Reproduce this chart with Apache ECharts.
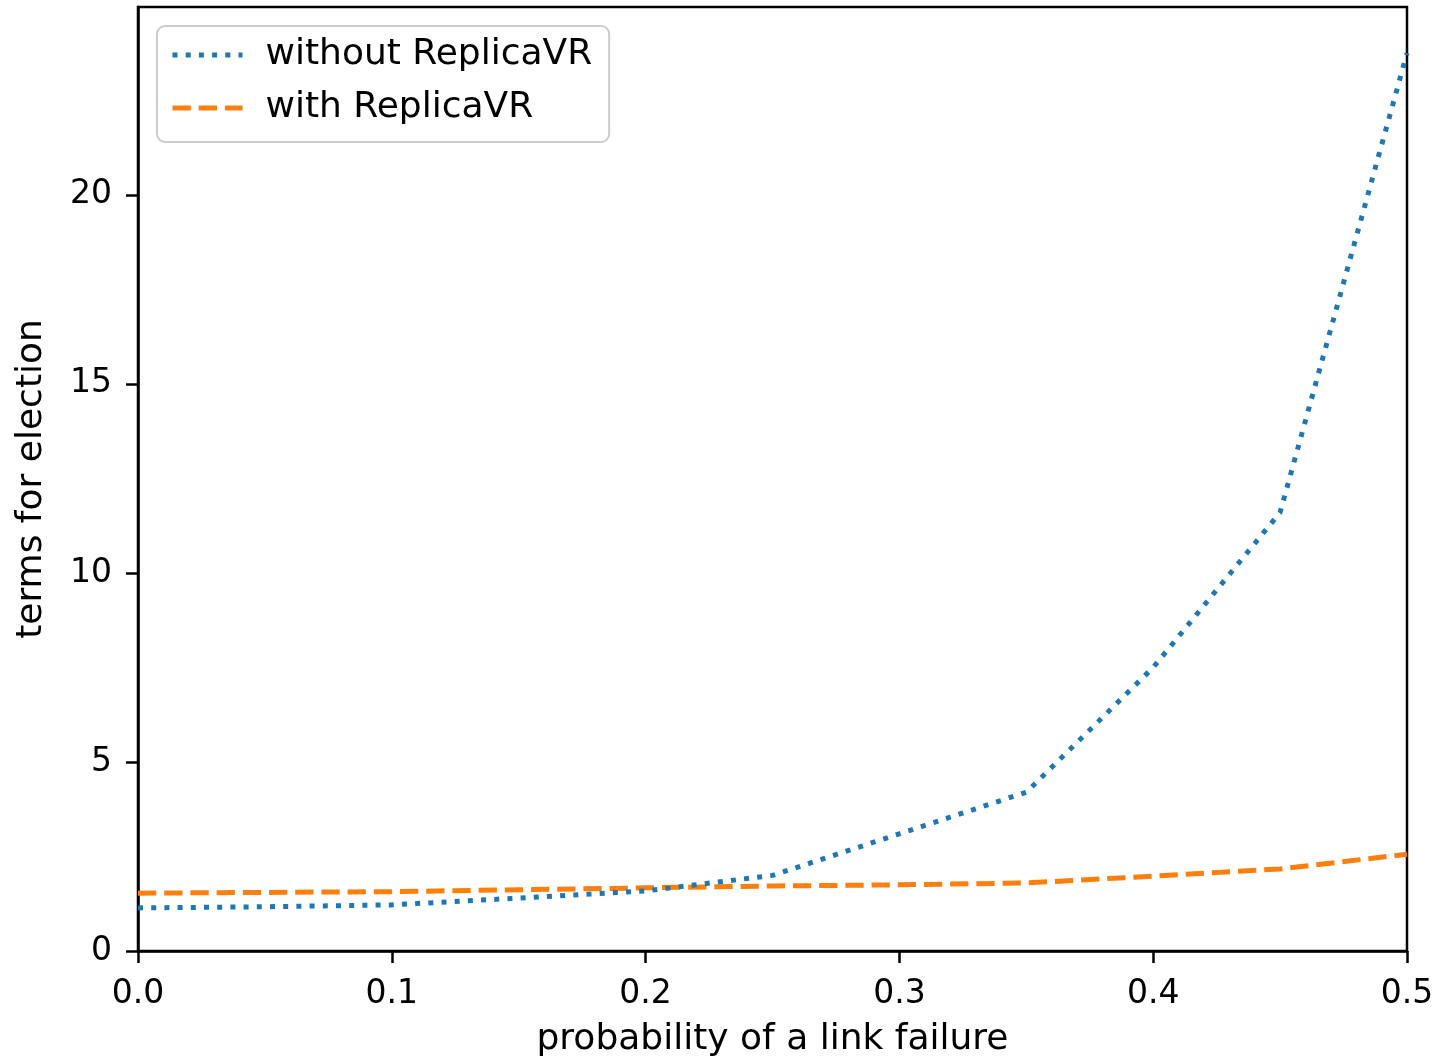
<!DOCTYPE html>
<html>
<head>
<meta charset="utf-8">
<script src="https://cdn.jsdelivr.net/npm/echarts@6/dist/echarts.min.js"></script>
<style>
  html, body { margin: 0; padding: 0; background: #fff; }
  #main { width: 1441px; height: 1064px; }
</style>
</head>
<body>
<div id="main"></div>
<script>
var failureProb = [0, 0.05, 0.1, 0.15, 0.2, 0.25, 0.3, 0.35, 0.4, 0.45, 0.5];
var withoutReplicaVR = [1.14, 1.17, 1.22, 1.40, 1.59, 2.0, 3.1, 4.2, 7.5, 11.6, 23.75];
var withReplicaVR = [1.53, 1.55, 1.57, 1.62, 1.67, 1.72, 1.75, 1.80, 1.98, 2.17, 2.56];
var yTicks = [0, 5, 10, 15, 20];
var xTicks = [0, 0.1, 0.2, 0.3, 0.4, 0.5];

var fontFamily = 'DejaVu Sans',
    tickFont = 33,
    labelFont = 36;

function pairs(xs, ys) {
    return xs.map(function (x, i) { return [x, ys[i]]; });
}

var chart = echarts.init(document.getElementById('main'));
var option = {
    backgroundColor: '#fff',
    animation: false,
    textStyle: { fontFamily: fontFamily },
    grid: {
        left: 138, right: 34, top: 7, bottom: 113,
        show: true, borderColor: '#000', borderWidth: 2.5
    },
    legend: {
        orient: 'vertical',
        left: 157, top: 26,
        padding: [9, 17, 14, 13],
        itemGap: 13,
        itemWidth: 70,
        itemHeight: 20,
        borderColor: '#cccccc',
        borderWidth: 2,
        borderRadius: 8,
        backgroundColor: 'rgba(255,255,255,0.8)',
        lineStyle: { width: 5 },
        itemStyle: { opacity: 0 },
        textStyle: {
            fontFamily: fontFamily,
            fontSize: labelFont,
            lineHeight: 40,
            color: '#000',
            padding: [0, 0, 0, 18]
        },
        data: ['without ReplicaVR', 'with ReplicaVR']
    },
    xAxis: {
        type: 'value',
        min: 0, max: 0.5, interval: 0.1,
        name: 'probability of a link failure',
        nameLocation: 'middle',
        nameGap: 71,
        nameTextStyle: { fontSize: labelFont, color: '#000', fontFamily: fontFamily },
        axisLine: { lineStyle: { color: '#000', width: 2.5 } },
        axisTick: { show: true, length: 12, inside: false, lineStyle: { color: '#000', width: 2.5 }, customValues: xTicks },
        axisLabel: {
            fontSize: tickFont, color: '#000', margin: 27,
            customValues: xTicks,
            formatter: function (v) { return v.toFixed(1); }
        },
        splitLine: { show: false }
    },
    yAxis: {
        type: 'value',
        min: 0, max: 24.97, interval: 5,
        name: 'terms for election',
        nameLocation: 'middle',
        nameGap: 88,
        nameTextStyle: { fontSize: labelFont, color: '#000', fontFamily: fontFamily },
        axisLine: { show: true, lineStyle: { color: '#000', width: 2.5 } },
        axisTick: { show: true, length: 12, lineStyle: { color: '#000', width: 2.5 }, customValues: yTicks },
        axisLabel: { fontSize: tickFont, color: '#000', margin: 26, customValues: yTicks },
        splitLine: { show: false }
    },
    series: [{
        name: 'without ReplicaVR',
        type: 'line',
        symbol: 'none',
        data: pairs(failureProb, withoutReplicaVR),
        lineStyle: { color: '#1f77b4', width: 5, type: [5, 8.2], cap: 'butt' },
        itemStyle: { color: '#1f77b4' },
        z: 3
    }, {
        name: 'with ReplicaVR',
        type: 'line',
        symbol: 'none',
        data: pairs(failureProb, withReplicaVR),
        lineStyle: { color: '#ff7f0e', width: 5, type: [18.3, 7.9], cap: 'butt' },
        itemStyle: { color: '#ff7f0e' },
        z: 2
    }]
};
chart.setOption(option);
</script>
</body>
</html>
